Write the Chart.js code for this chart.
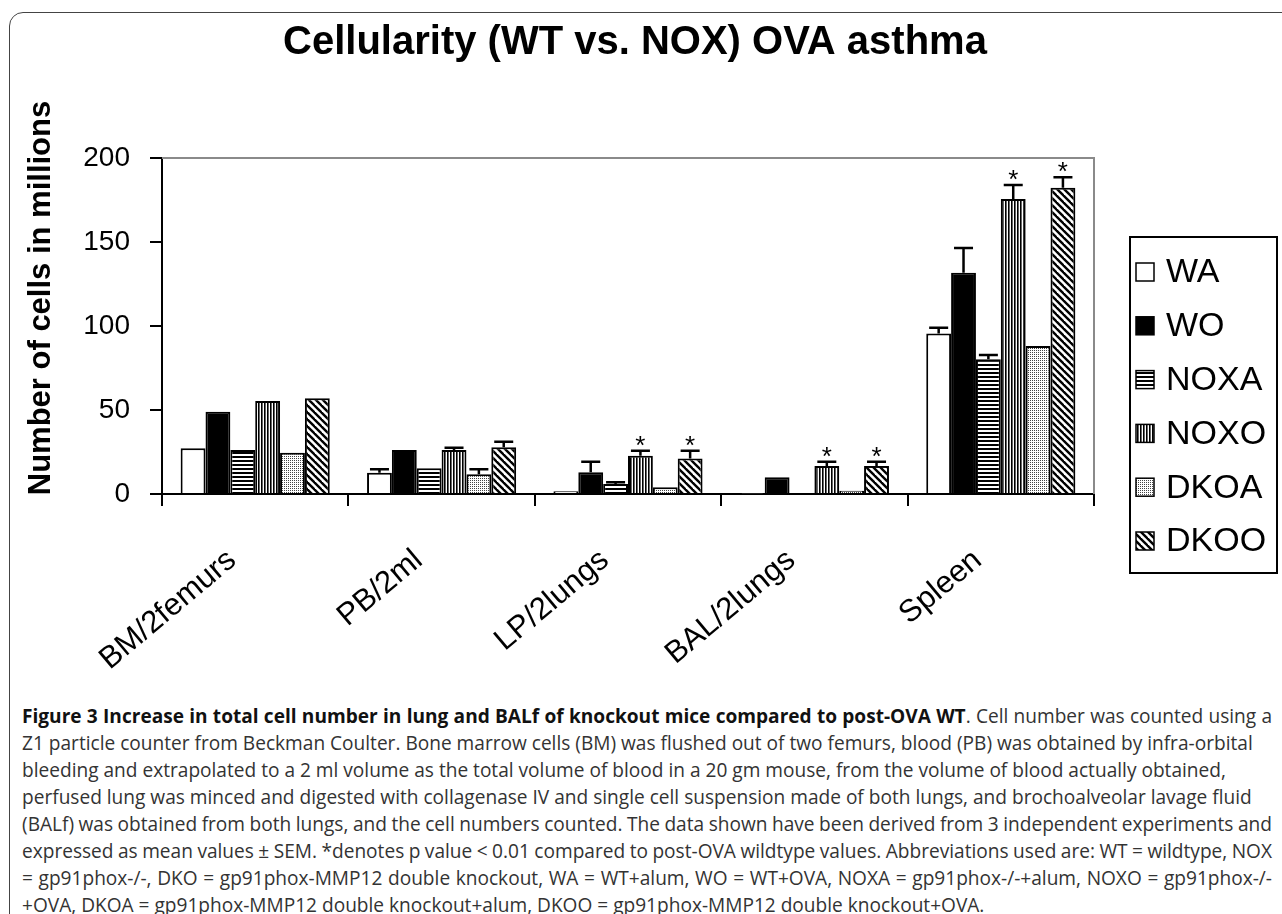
<!DOCTYPE html>
<html>
<head>
<meta charset="utf-8">
<script src="https://cdn.jsdelivr.net/npm/chart.js@4.4.1/dist/chart.umd.min.js"></script>
<style>
html, body { margin: 0; padding: 0; background: #fff; width: 1282px; height: 914px; overflow: hidden; }
#frame { position: absolute; left: 9px; top: 12px; width: 1300px; height: 950px; border: 1.5px solid #444; border-top-left-radius: 14px; }
#chartWrap { position: absolute; left: 0; top: 0; width: 1282px; height: 690px; }
#caption { position: absolute; left: 22px; top: 703px; width: 1250px; font-family: 'Open Sans', sans-serif; font-size: 19.1px; line-height: 27px; color: #333; }
#caption div { white-space: nowrap; }
#caption .j { text-align: justify; text-align-last: justify; word-spacing: -4px; }
#caption b { color: #111; }
</style>
</head>
<body>
<div id="frame"></div>
<div id="chartWrap"><canvas id="cellChart" width="1282" height="690"></canvas></div>
<div id="caption">
  <div class="j"><b>Figure 3 Increase in total cell number in lung and BALf of knockout mice compared to post-OVA WT</b>. Cell number was counted using a</div>
  <div>Z1 particle counter from Beckman Coulter. Bone marrow cells (BM) was flushed out of two femurs, blood (PB) was obtained by infra-orbital</div>
  <div>bleeding and extrapolated to a 2 ml volume as the total volume of blood in a 20 gm mouse, from the volume of blood actually obtained,</div>
  <div>perfused lung was minced and digested with collagenase IV and single cell suspension made of both lungs, and brochoalveolar lavage fluid</div>
  <div class="j">(BALf) was obtained from both lungs, and the cell numbers counted. The data shown have been derived from 3 independent experiments and</div>
  <div class="j">expressed as mean values ± SEM. *denotes p value &lt; 0.01 compared to post-OVA wildtype values. Abbreviations used are: WT = wildtype, NOX</div>
  <div class="j">= gp91phox-/-, DKO = gp91phox-MMP12 double knockout, WA = WT+alum, WO = WT+OVA, NOXA = gp91phox-/-+alum, NOXO = gp91phox-/-</div>
  <div>+OVA, DKOA = gp91phox-MMP12 double knockout+alum, DKOO = gp91phox-MMP12 double knockout+OVA.</div>
</div>
<script>
const chartTitle = 'Cellularity (WT vs. NOX) OVA asthma';
const yTitle = 'Number of cells in millions';
const categories = ['BM/2femurs', 'PB/2ml', 'LP/2lungs', 'BAL/2lungs', 'Spleen'];
const seriesNames = ['WA', 'WO', 'NOXA', 'NOXO', 'DKOA', 'DKOO'];
const yTicks = [0, 50, 100, 150, 200];

// means (millions of cells)
const wa   = [27.2, 12.7, 1.6, 0.3, 95.6];
const wo   = [49.0, 26.2, 12.9, 9.9, 131.7];
const noxa = [26.2, 15.3, 6.0, 0.4, 80.2];
const noxo = [55.4, 26.2, 22.8, 16.7, 175.6];
const dkoa = [24.6, 11.7, 4.0, 2.0, 88.1];
const dkoo = [57.0, 27.8, 21.2, 16.7, 182.3];

// SEM (upper error bars only)
const waErr   = [0, 2.0, 0, 0, 3.4];
const woErr   = [0, 0, 6.3, 0, 14.7];
const noxaErr = [0, 0, 1.0, 0, 2.5];
const noxoErr = [0, 1.4, 3.0, 2.5, 8.3];
const dkoaErr = [0, 3.0, 0, 0, 0];
const dkooErr = [0, 3.3, 4.6, 2.5, 6.2];

// * p < 0.01 vs WO
const noxoSig = [false, false, true, true, true];
const dkooSig = [false, false, true, true, true];
const noSig = [false, false, false, false, false];

function makePattern(kind) {
    const c = document.createElement('canvas');
    const g = c.getContext('2d');
    if (kind === 'white') {
        c.width = c.height = 2;
        g.fillStyle = '#fff'; g.fillRect(0, 0, 2, 2);
    } else if (kind === 'black') {
        c.width = c.height = 2;
        g.fillStyle = '#000'; g.fillRect(0, 0, 2, 2);
    } else if (kind === 'hlines') {
        c.width = c.height = 4;
        g.fillStyle = '#fff'; g.fillRect(0, 0, 4, 4);
        g.fillStyle = '#000'; g.fillRect(0, 0, 4, 2);
    } else if (kind === 'vlines') {
        c.width = c.height = 3;
        g.fillStyle = '#fff'; g.fillRect(0, 0, 3, 3);
        g.fillStyle = '#000'; g.fillRect(0, 0, 1, 3);
        g.fillStyle = '#666'; g.fillRect(1, 0, 1, 3);
    } else if (kind === 'dots') {
        c.width = c.height = 2;
        g.fillStyle = '#fff'; g.fillRect(0, 0, 2, 2);
        g.fillStyle = '#444'; g.fillRect(0, 0, 1, 1);
    } else if (kind === 'diag') {
        c.width = c.height = 7;
        g.fillStyle = '#fff'; g.fillRect(0, 0, 7, 7);
        g.strokeStyle = '#000'; g.lineWidth = 2.4;
        [-7, 0, 7].forEach(x0 => {
            g.beginPath(); g.moveTo(x0 - 1, -1); g.lineTo(x0 + 8, 8); g.stroke();
        });
    }
    return g.createPattern(c, 'repeat');
}

const errorBarsPlugin = {
    id: 'errorBars',
    afterDatasetsDraw(chart) {
        const ctx = chart.ctx;
        const y = chart.scales.y;
        chart.data.datasets.forEach((ds, i) => {
            const meta = chart.getDatasetMeta(i);
            meta.data.forEach((bar, j) => {
                const e = ds.errors[j];
                const top = y.getPixelForValue(ds.data[j] + e);
                ctx.save();
                if (e > 0) {
                    ctx.strokeStyle = '#000';
                    ctx.lineWidth = 2.5;
                    ctx.beginPath();
                    ctx.moveTo(bar.x, bar.y);
                    ctx.lineTo(bar.x, top);
                    ctx.moveTo(bar.x - 9.5, top);
                    ctx.lineTo(bar.x + 9.5, top);
                    ctx.stroke();
                }
                if (ds.stars[j]) {
                    ctx.fillStyle = '#000';
                    ctx.font = "26px 'Liberation Sans', Arial, sans-serif";
                    ctx.textAlign = 'center';
                    ctx.textBaseline = 'alphabetic';
                    ctx.fillText('*', bar.x, top + 3);
                }
                ctx.restore();
            });
        });
    }
};

const decorPlugin = {
    id: 'decor',
    afterDraw(chart) {
        const ctx = chart.ctx;
        const a = chart.chartArea;
        ctx.save();
        // plot area border (top / right)
        ctx.strokeStyle = '#8a8a8a';
        ctx.lineWidth = 2;
        ctx.beginPath();
        ctx.moveTo(a.left, a.top);
        ctx.lineTo(a.right, a.top);
        ctx.lineTo(a.right, a.bottom);
        ctx.stroke();

        // chart title
        ctx.fillStyle = '#000';
        ctx.font = "bold 40px 'Liberation Sans', Arial, sans-serif";
        ctx.textAlign = 'center';
        ctx.textBaseline = 'middle';
        ctx.fillText(chartTitle, 635, 43);

        // y axis title
        ctx.font = "bold 31px 'Liberation Sans', Arial, sans-serif";
        ctx.translate(41, 298);
        ctx.rotate(-Math.PI / 2);
        ctx.fillText(yTitle, 0, 0);
        ctx.restore();

        // legend
        ctx.save();
        const lx = 1130, ly = 237, lw = 147, lh = 336;
        ctx.fillStyle = '#fff';
        ctx.fillRect(lx, ly, lw, lh);
        ctx.strokeStyle = '#000';
        ctx.lineWidth = 2;
        ctx.strokeRect(lx, ly, lw, lh);
        ctx.font = "34px 'Liberation Sans', Arial, sans-serif";
        ctx.textBaseline = 'middle';
        chart.data.datasets.forEach((ds, i) => {
            const cy = 272 + i * 53.8;
            ctx.fillStyle = ds.backgroundColor;
            ctx.fillRect(lx + 6, cy - 9, 18, 18);
            ctx.lineWidth = 1.5;
            ctx.strokeRect(lx + 6, cy - 9, 18, 18);
            ctx.fillStyle = '#000';
            ctx.fillText(ds.label, lx + 36, cy + 1);
        });
        ctx.restore();
    }
};

const fills = ['white', 'black', 'hlines', 'vlines', 'dots', 'diag'].map(makePattern);
const values = [wa, wo, noxa, noxo, dkoa, dkoo];
const errs = [waErr, woErr, noxaErr, noxoErr, dkoaErr, dkooErr];
const sigs = [noSig, noSig, noSig, noxoSig, noSig, dkooSig];

const datasets = seriesNames.map((name, i) => ({
    label: name,
    data: values[i],
    errors: errs[i],
    stars: sigs[i],
    backgroundColor: fills[i],
    borderColor: '#000',
    borderWidth: 2,
    barPercentage: 1.0,
    categoryPercentage: 0.8
}));

Chart.defaults.font.family = "'Liberation Sans', Arial, sans-serif";
Chart.defaults.color = '#000';

new Chart(document.getElementById('cellChart').getContext('2d'), {
    type: 'bar',
    data: { labels: categories, datasets: datasets },
    options: {
        responsive: false,
        animation: false,
        devicePixelRatio: 1,
        layout: { padding: { left: 0, right: 188, top: 158, bottom: 0 } },
        plugins: {
            legend: { display: false },
            tooltip: { enabled: false },
            title: { display: false }
        },
        scales: {
            x: {
                afterFit: s => { s.height = 196; },
                grid: { display: true, drawOnChartArea: false, drawTicks: true, tickLength: 12, color: '#000', lineWidth: 2, offset: true },
                border: { display: true, color: '#000', width: 2 },
                ticks: { font: { size: 31 }, color: '#000', maxRotation: 40, minRotation: 40, autoSkip: false, padding: 36, labelOffset: -23 }
            },
            y: {
                min: 0,
                max: 200,
                afterFit: s => { s.width = 162; },
                afterBuildTicks: axis => { axis.ticks = yTicks.map(v => ({ value: v })); },
                grid: { display: true, drawOnChartArea: false, drawTicks: true, tickLength: 12, color: '#000', lineWidth: 2 },
                border: { display: true, color: '#000', width: 2 },
                ticks: { font: { size: 28 }, color: '#000', padding: 20 }
            }
        }
    },
    plugins: [errorBarsPlugin, decorPlugin]
});
</script>
</body>
</html>
